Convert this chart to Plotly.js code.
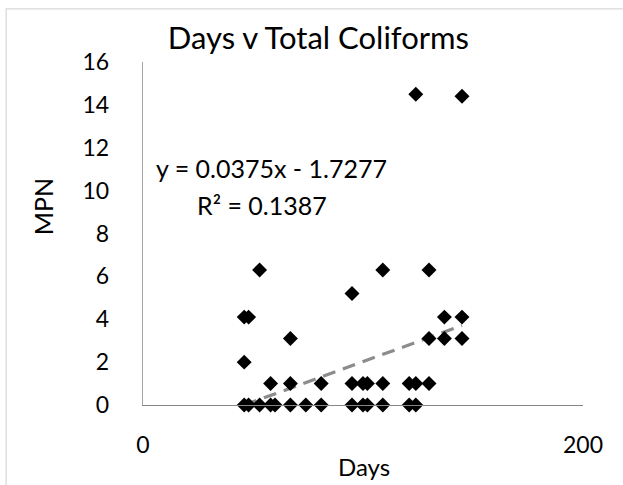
<!DOCTYPE html>
<html>
<head>
<meta charset="utf-8">
<script src="https://cdn.plot.ly/plotly-3.0.1.min.js"></script>
<style>
html,body{margin:0;padding:0;background:#fff;}
#chart{width:623px;height:485px;}
</style>
</head>
<body>
<div id="chart"></div>
<script>
// Data
const days = [46, 46, 46, 48, 48, 53, 53, 58, 58, 60, 67, 67, 67, 74, 81, 81,
              95, 95, 95, 100, 100, 102, 102, 109, 109, 109, 121, 121,
              124, 124, 124, 130, 130, 130, 137, 137, 145, 145, 145];
const mpn  = [4.1, 2, 0, 4.1, 0, 6.3, 0, 1, 0, 0, 3.1, 1, 0, 0, 1, 0,
              5.2, 1, 0, 1, 0, 1, 0, 6.3, 1, 0, 1, 0,
              14.5, 1, 0, 6.3, 3.1, 1, 4.1, 3.1, 14.4, 4.1, 3.1];
// Linear trendline coefficients as shown on the chart
const slope = 0.0375;
const intercept = -1.7277;
const rSquared = 0.1387;
const xTicks = [0, 200];
const yTicks = [0, 2, 4, 6, 8, 10, 12, 14, 16];
const chartTitle = 'Days v Total Coliforms';
const xTitle = 'Days';
const yTitle = 'MPN';

const xMin = Math.min(...days), xMax = Math.max(...days);
const trendX = [xMin, xMax];
const trendY = trendX.map(x => slope * x + intercept);

const FONT = 'Lato, "Open Sans", sans-serif';

const traces = [
  {
    x: trendX, y: trendY, type: 'scatter', mode: 'lines',
    line: {color: '#8c8c8c', width: 3.2, dash: '13px,8px'},
    hoverinfo: 'skip', showlegend: false, cliponaxis: false
  },
  {
    x: days, y: mpn, type: 'scatter', mode: 'markers',
    marker: {symbol: 'diamond', size: 11.5, color: '#000'},
    showlegend: false, cliponaxis: false
  }
];

const layout = {
  width: 623, height: 485,
  margin: {l: 143, r: 40, t: 62, b: 80},
  paper_bgcolor: '#fff', plot_bgcolor: '#fff',
  font: {family: FONT, color: '#000', size: 22},
  showlegend: false,
  title: {text: chartTitle, font: {family: FONT, size: 31, color: '#000'},
          x: 0.511, xanchor: 'center', y: 0.922, yanchor: 'middle'},
  xaxis: {
    range: [0, 200], tickvals: xTicks, ticktext: xTicks.map(String),
    showgrid: false, zeroline: false, showline: true, linecolor: '#868686', linewidth: 1.3,
    ticks: '', ticklabelstandoff: 19,
    tickfont: {family: FONT, size: 23, color: '#000'}
  },
  yaxis: {
    range: [0, 16], tickvals: yTicks, ticktext: yTicks.map(String),
    showgrid: false, zeroline: false, showline: true, linecolor: '#a6a6a6', linewidth: 1.3,
    ticks: '', ticklabelstandoff: 28,
    tickfont: {family: FONT, size: 23, color: '#000'}
  },
  annotations: [
    {xref: 'paper', yref: 'paper', x: -0.227, y: 0.577, xanchor: 'center', yanchor: 'middle',
     text: yTitle, textangle: -90, showarrow: false,
     font: {family: FONT, size: 25, color: '#000'}},
    {xref: 'paper', yref: 'paper', x: 0.502, y: -0.178, xanchor: 'center', yanchor: 'middle',
     text: xTitle, showarrow: false,
     font: {family: FONT, size: 24, color: '#000'}},
    {xref: 'paper', yref: 'paper', x: 0.024, y: 0.691, xanchor: 'left', yanchor: 'middle',
     text: 'y = ' + slope + 'x - ' + Math.abs(intercept), showarrow: false,
     font: {family: FONT, size: 25, color: '#000'}},
    {xref: 'paper', yref: 'paper', x: 0.118, y: 0.583, xanchor: 'left', yanchor: 'middle',
     text: 'R\u00B2 = ' + rSquared, showarrow: false,
     font: {family: FONT, size: 25, color: '#000'}}
  ],
  shapes: [
    {type: 'rect', xref: 'paper', yref: 'paper', x0: -0.311, x1: 1.2, y0: -0.3, y1: 1.155,
     line: {color: '#d9d9d9', width: 1.3}, fillcolor: 'rgba(0,0,0,0)', layer: 'below'}
  ]
};

Plotly.newPlot('chart', traces, layout, {staticPlot: true, displayModeBar: false});
</script>
</body>
</html>
